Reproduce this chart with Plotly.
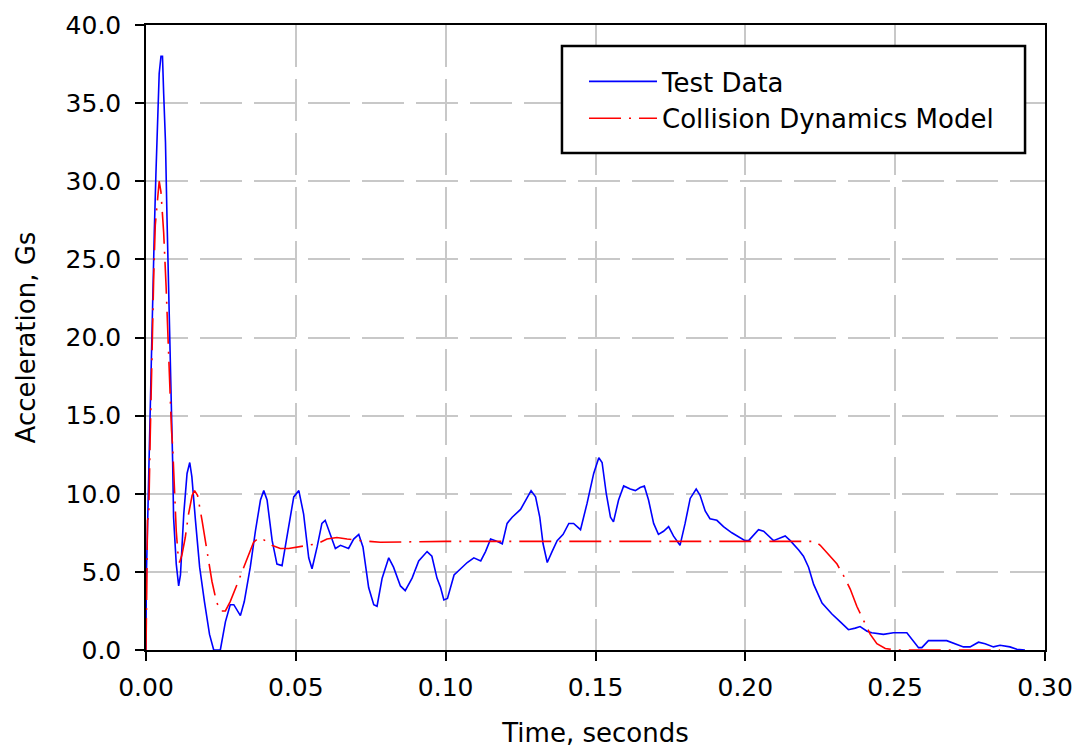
import plotly.graph_objects as go

# Test data (time in seconds, acceleration in Gs)
test_t = [0.0000, 0.0001, 0.0006, 0.0011, 0.0017, 0.0022, 0.0028, 0.0033, 0.0039, 0.0044,
          0.0050, 0.0055, 0.0059, 0.0065, 0.0070, 0.0076, 0.0081, 0.0085, 0.0089, 0.0092,
          0.0101, 0.0109, 0.0115, 0.0126, 0.0137, 0.0146, 0.0153, 0.0165, 0.0179, 0.0195,
          0.0212, 0.0226, 0.0248, 0.0265, 0.0281, 0.0293, 0.0315, 0.0328, 0.0348, 0.0365,
          0.0382, 0.0393, 0.0404, 0.0421, 0.0437, 0.0454, 0.0471, 0.0493, 0.0510, 0.0526,
          0.0543, 0.0554, 0.0571, 0.0587, 0.0598, 0.0615, 0.0632, 0.0649, 0.0665, 0.0676,
          0.0693, 0.0710, 0.0724, 0.0743, 0.0760, 0.0771, 0.0788, 0.0810, 0.0826, 0.0849,
          0.0865, 0.0888, 0.0910, 0.0938, 0.0954, 0.0971, 0.0983, 0.0994, 0.1006, 0.1028,
          0.1050, 0.1072, 0.1094, 0.1117, 0.1133, 0.1150, 0.1166, 0.1189, 0.1205, 0.1222,
          0.1250, 0.1270, 0.1285, 0.1300, 0.1314, 0.1325, 0.1339, 0.1355, 0.1372, 0.1392,
          0.1411, 0.1427, 0.1450, 0.1472, 0.1494, 0.1511, 0.1522, 0.1536, 0.1550, 0.1560,
          0.1577, 0.1594, 0.1616, 0.1633, 0.1649, 0.1663, 0.1677, 0.1694, 0.1710, 0.1727,
          0.1744, 0.1760, 0.1782, 0.1799, 0.1816, 0.1836, 0.1849, 0.1866, 0.1882, 0.1905,
          0.1927, 0.1955, 0.1982, 0.1999, 0.2011, 0.2044, 0.2061, 0.2094, 0.2133, 0.2150,
          0.2178, 0.2194, 0.2211, 0.2228, 0.2256, 0.2289, 0.2317, 0.2344, 0.2367, 0.2383,
          0.2406, 0.2422, 0.2461, 0.2494, 0.2539, 0.2561, 0.2578, 0.2589, 0.2611, 0.2672,
          0.2700, 0.2728, 0.2750, 0.2778, 0.2800, 0.2828, 0.2850, 0.2883, 0.2906, 0.2933]
test_g = [0.0, 4.6, 8.6, 13.3, 18.3, 22.5, 27.0, 30.4, 33.8, 36.9,
          38.0, 38.0, 35.6, 32.5, 27.7, 23.3, 18.5, 15.0, 12.0, 8.5,
          5.5, 4.1, 4.8, 8.7, 11.3, 12.0, 11.1, 8.3, 5.3, 3.1,
          1.0, 0.0, 0.0, 1.8, 2.9, 2.9, 2.2, 3.1, 5.3, 7.6,
          9.6, 10.2, 9.6, 7.0, 5.5, 5.4, 7.4, 9.8, 10.2, 8.7,
          5.9, 5.2, 6.6, 8.1, 8.3, 7.4, 6.5, 6.7, 6.6, 6.5,
          7.1, 7.4, 6.6, 4.0, 2.9, 2.8, 4.6, 5.9, 5.3, 4.1,
          3.8, 4.6, 5.7, 6.3, 6.0, 4.6, 4.0, 3.2, 3.3, 4.8,
          5.2, 5.6, 5.9, 5.7, 6.3, 7.1, 7.0, 6.8, 8.1, 8.5,
          9.0, 9.7, 10.2, 9.8, 8.5, 6.8, 5.6, 6.3, 7.0, 7.4,
          8.1, 8.1, 7.7, 9.4, 11.3, 12.3, 12.0, 10.0, 8.5, 8.2,
          9.6, 10.5, 10.3, 10.2, 10.4, 10.5, 9.6, 8.1, 7.4, 7.6,
          7.9, 7.3, 6.7, 8.1, 9.7, 10.3, 9.9, 8.9, 8.4, 8.3,
          7.9, 7.5, 7.2, 7.0, 7.0, 7.7, 7.6, 7.0, 7.3, 7.0,
          6.4, 6.0, 5.3, 4.2, 3.0, 2.3, 1.8, 1.3, 1.4, 1.5,
          1.2, 1.1, 1.0, 1.1, 1.1, 0.6, 0.15, 0.15, 0.6, 0.6,
          0.4, 0.2, 0.2, 0.5, 0.4, 0.2, 0.3, 0.2, 0.05, 0.0]

# Collision dynamics model
model_t = [0.0000, 0.0001, 0.0003, 0.0005, 0.0009, 0.0014, 0.0020, 0.0026, 0.0031, 0.0037,
           0.0044, 0.0050, 0.0059, 0.0067, 0.0073, 0.0079, 0.0085, 0.0089, 0.0095, 0.0101,
           0.0107, 0.0112, 0.0120, 0.0131, 0.0142, 0.0154, 0.0162, 0.0172, 0.0187, 0.0204,
           0.0220, 0.0235, 0.0248, 0.0265, 0.0281, 0.0304, 0.0326, 0.0343, 0.0359, 0.0379,
           0.0398, 0.0420, 0.0448, 0.0476, 0.0504, 0.0537, 0.0571, 0.0604, 0.0637, 0.0671,
           0.0715, 0.0782, 0.1000, 0.1500, 0.2000, 0.2233, 0.2250, 0.2278, 0.2306, 0.2328,
           0.2350, 0.2372, 0.2394, 0.2417, 0.2439, 0.2467, 0.2500, 0.2850]
model_g = [0.0, 4.7, 4.7, 8.3, 8.5, 13.6, 19.3, 24.1, 27.2, 28.8,
           30.0, 29.3, 26.7, 23.3, 19.9, 17.2, 14.1, 13.0, 9.8, 7.6,
           6.1, 5.6, 6.1, 7.2, 8.7, 9.9, 10.2, 9.9, 8.3, 6.3,
           4.4, 3.1, 2.5, 2.5, 3.1, 4.2, 5.3, 6.1, 6.9, 7.2,
           7.0, 6.7, 6.5, 6.5, 6.6, 6.7, 6.8, 7.1, 7.2, 7.1,
           7.0, 6.9, 6.95, 6.95, 6.95, 6.95, 6.7, 6.1, 5.5, 4.75,
           3.9, 2.8, 1.9, 1.0, 0.4, 0.1, 0.0, 0.0]

x_ticks = [0.00, 0.05, 0.10, 0.15, 0.20, 0.25, 0.30]
y_ticks = [0, 5, 10, 15, 20, 25, 30, 35, 40]

FONT = "DejaVu Sans"

fig = go.Figure()
fig.add_trace(go.Scatter(x=test_t, y=test_g, mode="lines", name="Test Data",
                         line=dict(color="#0000FF", width=1.6)))
fig.add_trace(go.Scatter(x=model_t, y=model_g, mode="lines", name="Collision Dynamics Model",
                         line=dict(color="#FF0000", width=1.6, dash="32px,8px,2px,8px")))

axis_common = dict(
    ticks="outside", ticklen=9, tickwidth=1.5, tickcolor="black",
    showline=True, linecolor="black", linewidth=1.5, mirror=True,
    showgrid=True, gridcolor="#c8c8c8", gridwidth=1.5, griddash="42px,12px",
    zeroline=False, automargin=False,
    tickfont=dict(family=FONT, size=25, color="black"),
)

fig.update_xaxes(range=[0, 0.3], tickvals=x_ticks, tickformat=".2f", ticklabelstandoff=5,
                 title=dict(text="Time, seconds", font=dict(family=FONT, size=26, color="black"),
                            standoff=24),
                 **axis_common)
fig.update_yaxes(range=[0, 40], tickvals=y_ticks, tickformat=".1f", ticklabelstandoff=9,
                 title=dict(text="Acceleration, Gs", font=dict(family=FONT, size=26, color="black"),
                            standoff=22),
                 **axis_common)

# legend frame (white box with black border), drawn in paper coordinates
fig.add_shape(type="rect", xref="paper", yref="paper",
              x0=0.4627, x1=0.9778, y0=0.7952, y1=0.9664,
              line=dict(color="black", width=2.5), fillcolor="white", layer="above")

fig.update_layout(
    width=1080, height=748,
    margin=dict(l=146, r=35, t=25, b=98),
    plot_bgcolor="white", paper_bgcolor="white",
    font=dict(family=FONT, size=25, color="black"),
    legend=dict(x=0.4872, y=0.9472, xanchor="left", yanchor="top",
                bgcolor="rgba(0,0,0,0)", borderwidth=0, itemwidth=68,
                font=dict(family=FONT, size=26, color="black")),
)

fig.write_html("out.html")
